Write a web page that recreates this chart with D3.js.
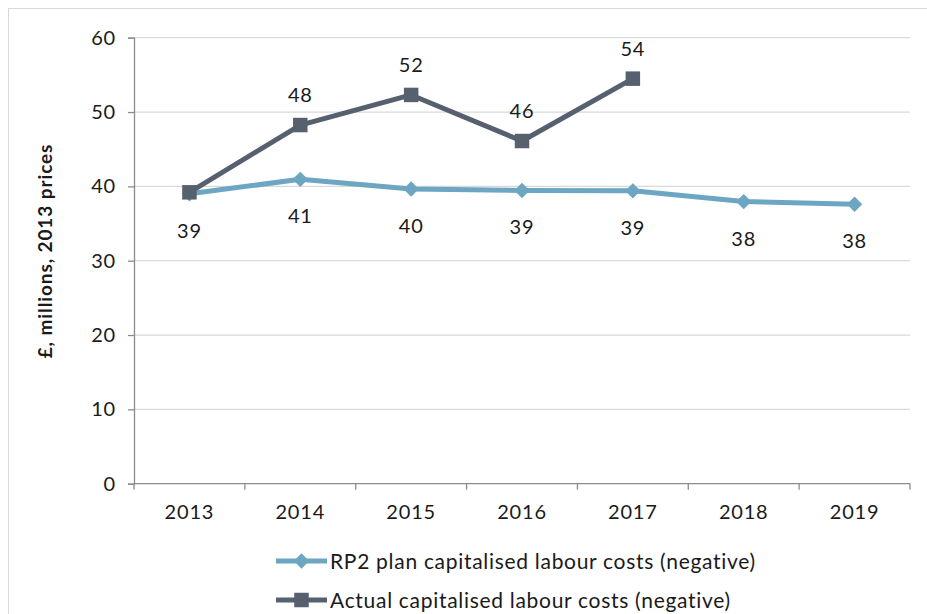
<!DOCTYPE html>
<html>
<head>
<meta charset="utf-8">
<script src="https://cdn.jsdelivr.net/npm/d3@7"></script>
<style>
  html, body { margin: 0; padding: 0; background: #fff; }
  svg { display: block; }
  text { font-family: Lato, "Open Sans", sans-serif; fill: #1a1a1a; }
</style>
</head>
<body>
<svg id="chart" width="927" height="614"></svg>
<script>
// Capitalised labour costs, £ millions (2013 prices)
const years = ["2013", "2014", "2015", "2016", "2017", "2018", "2019"];
const planValues = [39.0, 40.95, 39.65, 39.45, 39.4, 37.95, 37.6];
const actualValues = [39.2, 48.25, 52.3, 46.1, 54.49];
const yTicks = [0, 10, 20, 30, 40, 50, 60];
const seriesNames = [
  "RP2 plan capitalised labour costs (negative)",
  "Actual capitalised labour costs (negative)"
];
const yTitle = "£, millions,  2013 prices";

const planColor = "#6ca6c2";
const actualColor = "#56606e";
const fontSize = 20;
const spacing = 0.8;

const svg = d3.select("#chart");
const W = 927, H = 614;
const m = { left: 134, right: 17, top: 37.7, bottom: 130.3 };

// outer frame
svg.append("rect")
  .attr("x", 8.5).attr("y", 8.5)
  .attr("width", W).attr("height", H)
  .attr("fill", "none").attr("stroke", "#d9d9d9").attr("stroke-width", 1);

const x = d3.scaleBand().domain(years).range([m.left, W - m.right]);
const y = d3.scaleLinear().domain([0, 60]).range([H - m.bottom, m.top]);

// gridlines
svg.append("g").selectAll("line").data(yTicks.filter(d => d > 0)).join("line")
  .attr("x1", m.left).attr("x2", W - m.right)
  .attr("y1", d => y(d)).attr("y2", d => y(d))
  .attr("stroke", "#d9d9d9").attr("stroke-width", 1.3);

// y axis
const yAxis = svg.append("g").attr("transform", `translate(${m.left},0)`)
  .call(d3.axisLeft(y).tickValues(yTicks).tickSize(6).tickPadding(12));
yAxis.select(".domain").attr("stroke", "#8c8c8c").attr("stroke-width", 1.3);
yAxis.selectAll(".tick line").attr("stroke", "#8c8c8c").attr("stroke-width", 1.3);
yAxis.selectAll(".tick text").attr("font-size", fontSize).attr("font-family", "Lato")
  .attr("letter-spacing", spacing).attr("fill", "#1a1a1a");

// x axis with ticks on band edges
const xAxisG = svg.append("g").attr("transform", `translate(0,${y(0)})`);
xAxisG.append("line")
  .attr("x1", m.left).attr("x2", W - m.right)
  .attr("stroke", "#8c8c8c").attr("stroke-width", 1.3);
const edges = years.map(d => x(d)).concat([x(years[years.length - 1]) + x.bandwidth()]);
xAxisG.selectAll("line.edge").data(edges).join("line").attr("class", "edge")
  .attr("x1", d => d).attr("x2", d => d).attr("y1", 0).attr("y2", 6)
  .attr("stroke", "#8c8c8c").attr("stroke-width", 1.3);
xAxisG.selectAll("text").data(years).join("text")
  .attr("x", d => x(d) + x.bandwidth() / 2).attr("y", 35)
  .attr("text-anchor", "middle").attr("font-size", fontSize).attr("letter-spacing", spacing)
  .text(d => d);

// y axis title
svg.append("text")
  .attr("transform", `translate(52,251) rotate(-90)`)
  .attr("text-anchor", "middle").attr("font-size", 19).attr("font-weight", "bold")
  .attr("letter-spacing", 0.9)
  .text(yTitle);

const cx = (d, i) => x(years[i]) + x.bandwidth() / 2;
const line = d3.line().x((d, i) => cx(d, i)).y(d => y(d));
const fmt = d3.format(".0f");

const diamond = d3.symbol().type(d3.symbolDiamond2).size(150);
const square = d3.symbol().type(d3.symbolSquare).size(210);

// plan series
svg.append("path").datum(planValues)
  .attr("d", line).attr("fill", "none")
  .attr("stroke", planColor).attr("stroke-width", 5).attr("stroke-linejoin", "round");
svg.append("g").selectAll("path").data(planValues).join("path")
  .attr("transform", (d, i) => `translate(${cx(d, i)},${y(d)})`)
  .attr("d", diamond).attr("fill", planColor);

// actual series
svg.append("path").datum(actualValues)
  .attr("d", line).attr("fill", "none")
  .attr("stroke", actualColor).attr("stroke-width", 5).attr("stroke-linejoin", "round");
svg.append("g").selectAll("path").data(actualValues).join("path")
  .attr("transform", (d, i) => `translate(${cx(d, i)},${y(d)})`)
  .attr("d", square).attr("fill", actualColor);

// value labels: plan below, actual above (the 2013 actual shares the plan label)
svg.append("g").selectAll("text").data(planValues).join("text")
  .attr("x", (d, i) => cx(d, i)).attr("y", d => y(d) + 44)
  .attr("text-anchor", "middle").attr("font-size", fontSize).attr("letter-spacing", spacing)
  .text(d => fmt(d));
svg.append("g").selectAll("text").data(actualValues.slice(1)).join("text")
  .attr("x", (d, i) => cx(d, i + 1)).attr("y", d => y(d) - 23)
  .attr("text-anchor", "middle").attr("font-size", fontSize).attr("letter-spacing", spacing)
  .text(d => fmt(d));

// legend
const legend = svg.append("g");
const legendRows = [
  { name: seriesNames[0], color: planColor, sym: diamond, y: 561 },
  { name: seriesNames[1], color: actualColor, sym: square, y: 600 }
];
legendRows.forEach(r => {
  legend.append("line").attr("x1", 276).attr("x2", 327).attr("y1", r.y).attr("y2", r.y)
    .attr("stroke", r.color).attr("stroke-width", 5);
  legend.append("path").attr("transform", `translate(301.5,${r.y})`)
    .attr("d", r.sym).attr("fill", r.color);
  legend.append("text").attr("x", 330).attr("y", r.y).attr("dy", "0.36em")
    .attr("font-size", 21).attr("letter-spacing", 0.7).text(r.name);
});
</script>
</body>
</html>
